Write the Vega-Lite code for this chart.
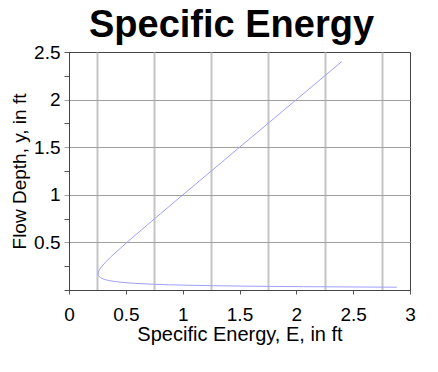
{
  "$schema": "https://vega.github.io/schema/vega-lite/v6.json",
  "width": 341,
  "height": 238,
  "autosize": "none",
  "padding": {"left": 69, "top": 52, "right": 28, "bottom": 82},
  "background": "white",
  "title": {
    "text": "Specific Energy",
    "font": "Liberation Sans",
    "fontSize": 38,
    "fontWeight": "bold",
    "color": "black",
    "frame": "group",
    "anchor": "middle",
    "offset": -2,
    "dx": -8
  },
  "config": {
    "view": {"stroke": "#444444", "strokeWidth": 1},
    "axis": {
      "labelFont": "Liberation Sans",
      "titleFont": "Liberation Sans",
      "labelColor": "black",
      "titleColor": "black",
      "titleFontWeight": "normal",
      "domainColor": "#444444",
      "labelOverlap": false,
      "labelFlush": false
    }
  },
  "data": {
    "values": [
      {"y": 0.0295, "E": 2.884},
      {"y": 0.031, "E": 2.616},
      {"y": 0.033, "E": 2.314},
      {"y": 0.035, "E": 2.063},
      {"y": 0.0375, "E": 1.804},
      {"y": 0.04, "E": 1.593},
      {"y": 0.045, "E": 1.272},
      {"y": 0.05, "E": 1.044},
      {"y": 0.055, "E": 0.876},
      {"y": 0.06, "E": 0.750},
      {"y": 0.07, "E": 0.577},
      {"y": 0.08, "E": 0.468},
      {"y": 0.09, "E": 0.397},
      {"y": 0.10, "E": 0.348},
      {"y": 0.11, "E": 0.315},
      {"y": 0.12, "E": 0.293},
      {"y": 0.13, "E": 0.277},
      {"y": 0.14, "E": 0.267},
      {"y": 0.15, "E": 0.260},
      {"y": 0.16, "E": 0.257},
      {"y": 0.17, "E": 0.256},
      {"y": 0.18, "E": 0.257},
      {"y": 0.19, "E": 0.259},
      {"y": 0.20, "E": 0.262},
      {"y": 0.22, "E": 0.271},
      {"y": 0.25, "E": 0.290},
      {"y": 0.30, "E": 0.328},
      {"y": 0.35, "E": 0.370},
      {"y": 0.40, "E": 0.416},
      {"y": 0.50, "E": 0.510},
      {"y": 0.60, "E": 0.607},
      {"y": 0.80, "E": 0.804},
      {"y": 1.00, "E": 1.002},
      {"y": 1.20, "E": 1.202},
      {"y": 1.50, "E": 1.501},
      {"y": 2.00, "E": 2.001},
      {"y": 2.40, "E": 2.400}
    ]
  },
  "mark": {"type": "line", "color": "#a0a0ff", "strokeWidth": 1},
  "encoding": {
    "x": {
      "field": "E",
      "type": "quantitative",
      "scale": {"domain": [0, 3], "nice": false, "zero": true},
      "axis": {
        "title": "Specific Energy, E, in ft",
        "titleFontSize": 20,
        "titlePadding": 0,
        "values": [0, 0.25, 0.5, 0.75, 1, 1.25, 1.5, 1.75, 2, 2.25, 2.5, 2.75, 3],
        "format": "~g",
        "labelExpr": "datum.value % 0.5 == 0 ? datum.label : ''",
        "labelFontSize": 19,
        "labelPadding": 11,
        "tickSize": 4,
        "tickColor": "#555555",
        "tickOpacity": {"condition": {"test": "datum.value % 0.5 == 0", "value": 1}, "value": 0},
        "grid": true,
        "gridColor": "#c4c4c4",
        "gridWidth": 2,
        "gridOpacity": {"condition": {"test": "datum.value % 0.5 == 0", "value": 0}, "value": 1}
      }
    },
    "y": {
      "field": "y",
      "type": "quantitative",
      "scale": {"domain": [0, 2.5], "nice": false, "zero": true},
      "axis": {
        "title": "Flow Depth, y, in ft",
        "titleFontSize": 19,
        "titlePadding": 4,
        "values": [0, 0.25, 0.5, 0.75, 1, 1.25, 1.5, 1.75, 2, 2.25, 2.5],
        "format": "~g",
        "labelExpr": "datum.value > 0 && datum.value % 0.5 == 0 ? datum.label : ''",
        "labelFontSize": 19,
        "labelPadding": 4,
        "tickSize": 5,
        "tickColor": {"condition": {"test": "datum.value > 0 && datum.value < 2.5 && datum.value % 0.5 == 0", "value": "#a0a0a0"}, "value": "#555555"},
        "grid": true,
        "gridColor": "#a0a0a0",
        "gridWidth": 1,
        "gridOpacity": {"condition": {"test": "datum.value > 0 && datum.value < 2.5 && datum.value % 0.5 == 0", "value": 1}, "value": 0}
      }
    },
    "order": {"field": "y", "type": "quantitative"}
  }
}
